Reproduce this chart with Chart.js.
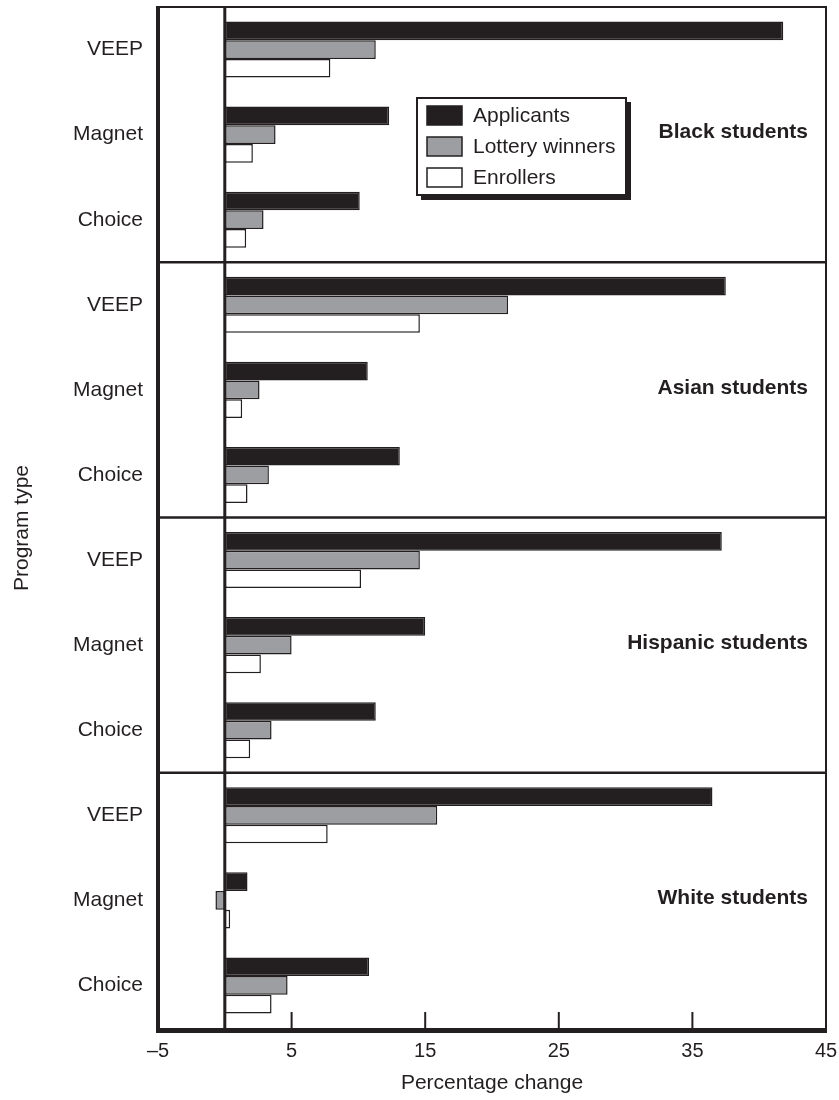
<!DOCTYPE html>
<html><head><meta charset="utf-8">
<script src="https://cdn.jsdelivr.net/npm/chart.js@4.4.1/dist/chart.umd.min.js"></script>
<style>html,body{margin:0;padding:0;background:#fff;}#wrap{width:839px;height:1100px;position:relative;}canvas{display:block;}</style>
</head><body><div id="wrap"><canvas id="c" width="839" height="1100"></canvas></div>
<script>
const groups = ['Black students', 'Asian students', 'Hispanic students', 'White students'];
const programs = ['VEEP', 'Magnet', 'Choice'];
const seriesNames = ['Applicants', 'Lottery winners', 'Enrollers'];
const applicants     = [41.8, 12.3, 10.1,  37.5, 10.7, 13.1,  37.2, 15.0, 11.3,  36.5, 1.7, 10.8];
const lotteryWinners = [11.3,  3.8,  2.9,  21.2,  2.6,  3.3,  14.6,  5.0,  3.5,  15.9, -0.7, 4.7];
const enrollers      = [ 7.9,  2.1,  1.6,  14.6,  1.3,  1.7,  10.2,  2.7,  1.9,   7.7, 0.4,  3.5];
const xTickValues = [-5, 5, 15, 25, 35, 45];
const xTickLabels = ['\u20135', '5', '15', '25', '35', '45'];
const xTitle = 'Percentage change';
const yTitle = 'Program type';

const INK = '#231f20';
const GRAY = '#9d9ea1';
const FONT = '"Liberation Sans", Arial, Helvetica, sans-serif';

const labels = [];
groups.forEach(() => programs.forEach(p => labels.push(p)));

function seg(ctx, x1, y1, x2, y2) { ctx.beginPath(); ctx.moveTo(x1, y1); ctx.lineTo(x2, y2); ctx.stroke(); }

const panelPlugin = {
  id: 'panels',
  afterDatasetsDraw(chart) {
    const { ctx, chartArea: a, scales: { x, y } } = chart;
    ctx.save();
    ctx.strokeStyle = INK;
    ctx.lineCap = 'butt';
    // panel separators
    ctx.lineWidth = 2.5;
    for (let g = 1; g < groups.length; g++) {
      const yy = y.getPixelForValue(g * programs.length - 0.5);
      seg(ctx, a.left, yy, a.right, yy);
    }
    // zero line
    const x0 = x.getPixelForValue(0);
    ctx.lineWidth = 3;
    seg(ctx, x0, a.top, x0, a.bottom);
    // inward tick marks
    ctx.lineWidth = 2;
    xTickValues.slice(1, -1).forEach(v => {
      const px = x.getPixelForValue(v);
      seg(ctx, px, a.bottom - 16, px, a.bottom);
    });
    // frame
    ctx.lineWidth = 2;
    seg(ctx, a.left, a.top, a.right + 1, a.top);
    seg(ctx, a.right, a.top, a.right, a.bottom);
    ctx.lineWidth = 4;
    seg(ctx, a.left, a.top - 1, a.left, a.bottom + 5);
    ctx.lineWidth = 5;
    seg(ctx, a.left - 2, a.bottom + 2.5, a.right + 1, a.bottom + 2.5);
    // panel labels
    ctx.fillStyle = INK;
    ctx.font = 'bold 21px ' + FONT;
    ctx.textAlign = 'right';
    ctx.textBaseline = 'middle';
    groups.forEach((g, i) => {
      const yy = y.getPixelForValue(i * programs.length + 1) - 2;
      ctx.fillText(g, 808, yy);
    });
    // legend
    const lx = 417, ly = 98, lw = 209, lh = 97;
    ctx.fillStyle = INK;
    ctx.fillRect(lx + 4, ly + 4, lw + 1, lh + 1);
    ctx.fillStyle = '#fff';
    ctx.fillRect(lx, ly, lw, lh);
    ctx.lineWidth = 2;
    ctx.strokeRect(lx, ly, lw, lh);
    ctx.font = '21px ' + FONT;
    ctx.textAlign = 'left';
    chart.data.datasets.forEach((ds, i) => {
      const sy = ly + 8 + i * 31;
      ctx.fillStyle = ds.backgroundColor;
      ctx.fillRect(lx + 10, sy, 35, 19);
      ctx.lineWidth = 1.5;
      ctx.strokeRect(lx + 10, sy, 35, 19);
      ctx.fillStyle = INK;
      ctx.fillText(ds.label, lx + 56, sy + 10);
    });
    // y title
    ctx.save();
    ctx.translate(22, 528);
    ctx.rotate(-Math.PI / 2);
    ctx.textAlign = 'center';
    ctx.textBaseline = 'middle';
    ctx.font = '21px ' + FONT;
    ctx.fillText(yTitle, 0, 0);
    ctx.restore();
    ctx.restore();
  }
};

const common = { borderColor: INK, borderWidth: 1.5, borderSkipped: false, categoryPercentage: 0.66, barPercentage: 1.0 };

new Chart(document.getElementById('c'), {
  type: 'bar',
  data: {
    labels: labels,
    datasets: [
      Object.assign({ label: seriesNames[0], data: applicants, backgroundColor: INK }, common),
      Object.assign({ label: seriesNames[1], data: lotteryWinners, backgroundColor: GRAY }, common),
      Object.assign({ label: seriesNames[2], data: enrollers, backgroundColor: '#ffffff' }, common)
    ]
  },
  options: {
    indexAxis: 'y',
    responsive: false,
    animation: false,
    devicePixelRatio: 1,
    layout: { padding: { top: 7, right: 13, left: 0, bottom: 0 } },
    plugins: { legend: { display: false }, tooltip: { enabled: false } },
    scales: {
      x: {
        type: 'linear', min: -5, max: 45,
        grid: { display: false, drawTicks: false },
        border: { display: false },
        ticks: { stepSize: 10, color: INK, font: { family: FONT, size: 20 }, padding: 11,
                 callback: (v, i) => xTickLabels[i] },
        title: { display: true, text: xTitle, color: INK, font: { family: FONT, size: 21 }, padding: { top: 0, bottom: 4 } },
        afterFit: s => { s.height = 72; s.paddingLeft = 0; s.paddingRight = 0; }
      },
      y: {
        type: 'category', offset: true,
        grid: { display: false, drawTicks: false },
        border: { display: false },
        ticks: { color: INK, font: { family: FONT, size: 21 }, padding: 15, autoSkip: false },
        afterFit: s => { s.width = 158; s.paddingTop = 0; s.paddingBottom = 0; }
      }
    }
  },
  plugins: [panelPlugin]
});
</script>
</body></html>
